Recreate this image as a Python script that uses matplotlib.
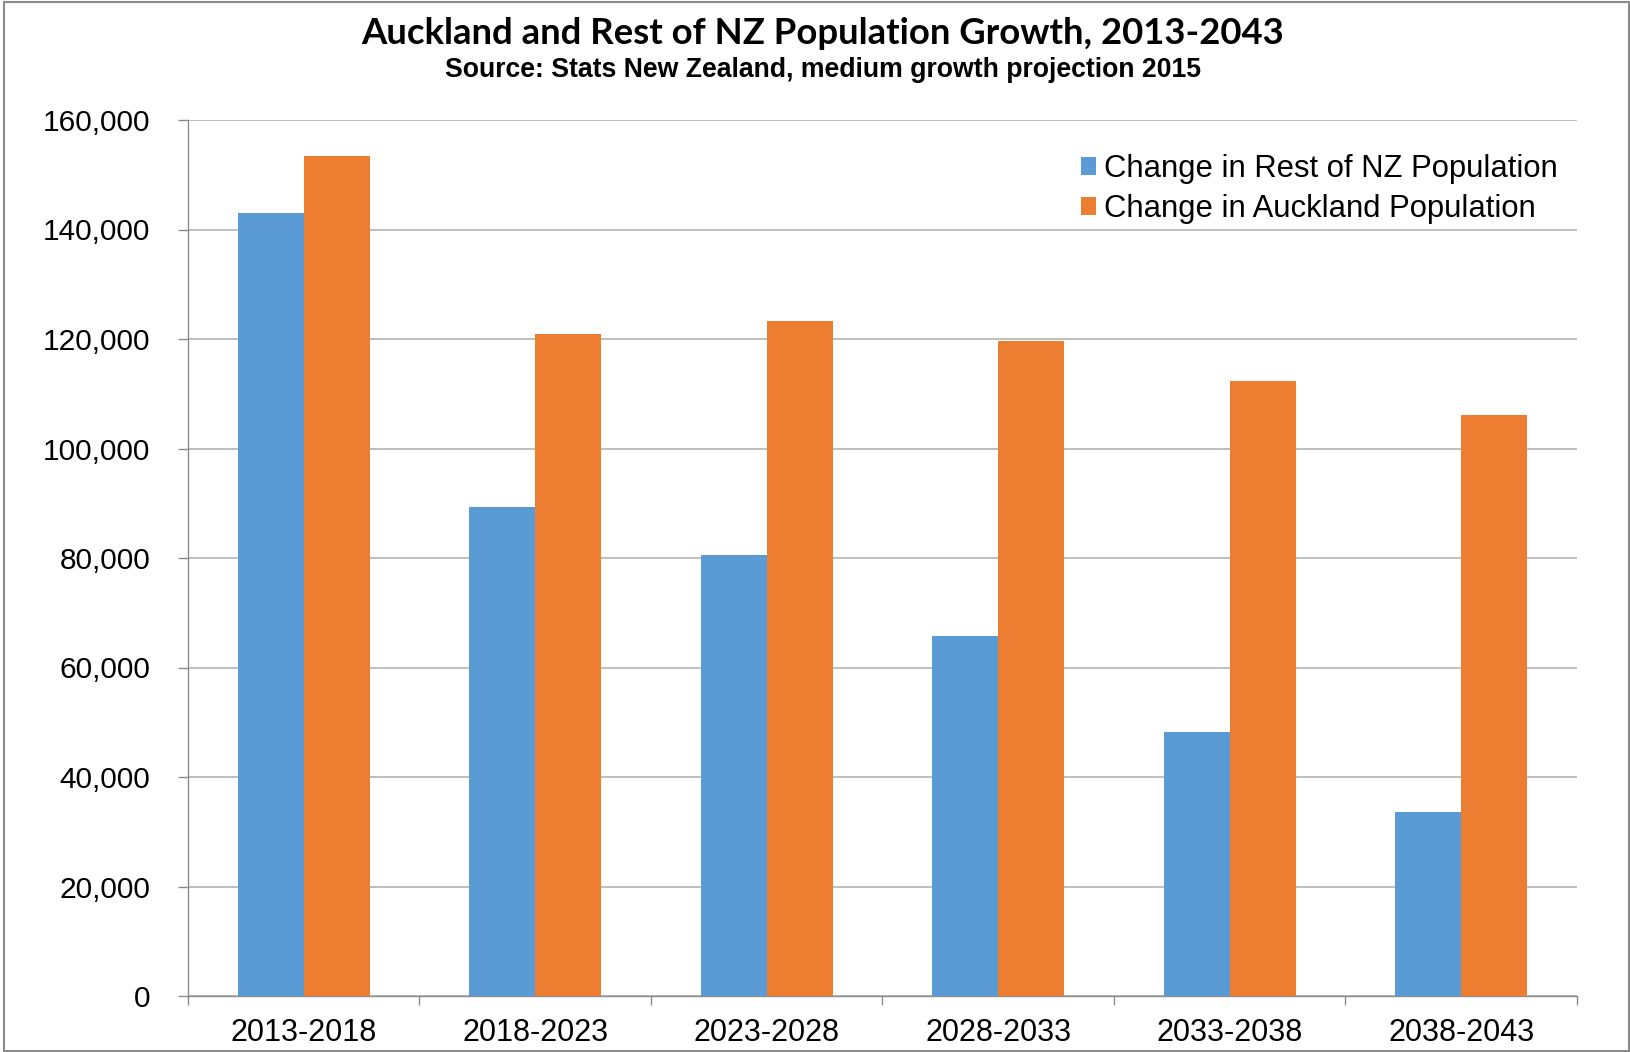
import numpy as np
import matplotlib.pyplot as plt
from matplotlib.patches import Rectangle

# data
periods = ["2013-2018", "2018-2023", "2023-2028", "2028-2033", "2033-2038", "2038-2043"]
rest_nz = [143100, 89400, 80600, 65700, 48300, 33600]
auckland = [153400, 121000, 123300, 119600, 112400, 106200]
series_names = ["Change in Rest of NZ Population", "Change in Auckland Population"]
yticks = [0, 20000, 40000, 60000, 80000, 100000, 120000, 140000, 160000]

blue = "#5B9BD5"
orange = "#ED7D31"
grid_col = "#B3B3B3"
axis_col = "#8C8C8C"

plt.rcParams['font.family'] = ['Liberation Sans', 'DejaVu Sans']

fig = plt.figure(figsize=(16.31, 10.52), dpi=100)
ax = fig.add_axes([188/1631, 1-996/1052, (1577-188)/1631, (996-120)/1052])

x = np.arange(len(periods))
w = 1/3.5
ax.bar(x - w/2, rest_nz, w, color=blue, label=series_names[0], zorder=3)
ax.bar(x + w/2, auckland, w, color=orange, label=series_names[1], zorder=3)

ax.set_xlim(-0.5, len(periods) - 0.5)
ax.set_ylim(0, 160000)
ax.set_yticks(yticks)
ax.set_yticklabels([f"{v:,}" for v in yticks])
ax.set_xticks(x)
ax.set_xticklabels(periods)
ax.tick_params(axis='x', length=0, labelsize=22, pad=15.5)
ax.set_xticks(np.arange(len(periods) + 1) - 0.5, minor=True)
ax.tick_params(axis='x', which='minor', length=6.5, width=1, color=axis_col)
ax.tick_params(axis='y', length=7.2, width=1, color=axis_col, labelsize=21.5, pad=20)

ax.yaxis.grid(True, color=grid_col, lw=1.2, zorder=0)
for s in ['top', 'right']:
    ax.spines[s].set_visible(False)
for s in ['left', 'bottom']:
    ax.spines[s].set_color(axis_col)
    ax.spines[s].set_linewidth(1)

leg = ax.legend(loc='upper left', bbox_to_anchor=(1081/1631, 1-154/1052),
                bbox_transform=fig.transFigure, frameon=False, fontsize=22.3,
                handlelength=0.5, handleheight=0.5, handletextpad=0.25,
                labelspacing=0.32, borderpad=0, borderaxespad=0)

fig.text(823/1631, 1-33/1052, "Auckland and Rest of NZ Population Growth, 2013-2043",
         ha='center', va='center', fontsize=26.3, fontweight='bold', family=['Lato', 'DejaVu Sans'])
fig.text(823/1631, 1-70/1052, "Source: Stats New Zealand, medium growth projection 2015",
         ha='center', va='center', fontsize=19.2, fontweight='bold')

# chart border
fig.patches.append(Rectangle((4/1631, 1/1052), 1625/1631, 1049/1052, transform=fig.transFigure,
                             fill=False, edgecolor="#8C8C8C", lw=1.5))

fig.savefig("out.png", dpi=100)
